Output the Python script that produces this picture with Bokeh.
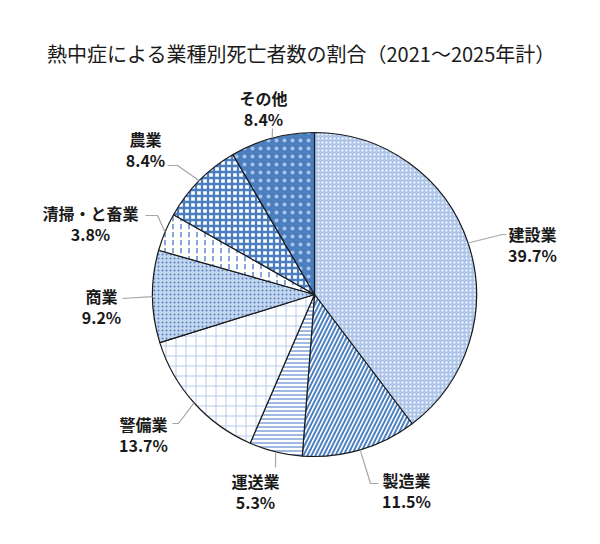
import math
from bokeh.plotting import figure
from bokeh.models import Range1d, ColumnDataSource
from bokeh.core.properties import value
from bokeh.embed import file_html
from bokeh.resources import INLINE

# ---- data ----
categories = ["建設業", "製造業", "運送業", "警備業", "商業", "清掃・と畜業", "農業", "その他"]
shares = [39.7, 11.5, 5.3, 13.7, 9.2, 3.8, 8.4, 8.4]
title_text = "熱中症による業種別死亡者数の割合（2021〜2025年計）"

# ---- styles ----
fills = ["#aec5e9", "#ffffff", "#ffffff", "#ffffff", "#c4d5ee", "#ffffff", "#ffffff", "#4a7ebf"]
hatch_patterns = ["dot", "right_diagonal_line", "horizontal_line", "cross", "dot",
                  "vertical_dash", "cross", "dot"]
hatch_colors = ["#ffffff", "#4f82c3", "#7ea3d8", "#b6caea", "#4f82c3", "#5b8bd0", "#4a7ec0", "#a9c2e8"]
hatch_scales = [4, 8, 4, 10, 4, 8, 6, 8]
hatch_weights = [1.2, 2.0, 1.5, 1.0, 2.0, 1.5, 2.3, 1.2]

# ---- layout (reference pixel coords: x right, y down) ----
CX, CY, R = 314, 294, 162
W, H = 584, 528
label_pos = [(532, 233), (406, 479), (255, 480), (143, 423), (101, 295), (90, 212), (145, 138), (263, 97)]
leader_elbow = [(502, 234), (370, 483), (275, 467), (178, 423), (122, 298), (157, 215), (177, 165), (272, 128)]
leader_end = [(506, 234), (378, 483), (275, 467), (172, 423), (122, 298), (145, 215), (167, 165), (272, 128)]


def fy(y):
    return 544 - y


p = figure(width=W, height=H, x_range=Range1d(0, W), y_range=Range1d(544 - H, 544),
           output_backend="svg", toolbar_location=None, min_border=0,
           x_axis_location=None, y_axis_location=None, outline_line_color=None)
p.grid.visible = False

total = sum(shares)
starts, ends, mids = [], [], []
c = 0.0
for s in shares:
    c0 = c / total
    c1 = (c + s) / total
    starts.append(math.pi / 2 - 2 * math.pi * c1)
    ends.append(math.pi / 2 - 2 * math.pi * c0)
    mids.append(math.pi / 2 - 2 * math.pi * (c0 + c1) / 2)
    c += s

src = ColumnDataSource(dict(start=starts, end=ends, fill=fills, hp=hatch_patterns,
                            hc=hatch_colors, hs=hatch_scales, hw=hatch_weights,
                            name=categories))
p.wedge(x=CX, y=fy(CY), radius=R, start_angle="start", end_angle="end", direction="anticlock",
        fill_color="fill", hatch_pattern="hp", hatch_color="hc", hatch_scale="hs",
        hatch_weight="hw", line_color="#1a1a1a", line_width=1.2, source=src)

# leader lines
xs, ys = [], []
for m, e, t in zip(mids, leader_elbow, leader_end):
    ex = CX + R * math.cos(m)
    ey = fy(CY) + R * math.sin(m)
    xs.append([ex, e[0], t[0]])
    ys.append([ey, fy(e[1]), fy(t[1])])
p.multi_line(xs=xs, ys=ys, line_color="#a6a6a6", line_width=1.2)

# labels
font = value("Noto Sans CJK JP")
p.text(x=[lp[0] for lp in label_pos], y=[fy(lp[1]) for lp in label_pos], text=categories,
       text_font=font, text_font_size="16px", text_font_style="bold", text_color="#1a1a1a",
       text_align="center", text_baseline="middle")
p.text(x=[lp[0] for lp in label_pos], y=[fy(lp[1] + 21) for lp in label_pos],
       text=[f"{s:.1f}%" for s in shares],
       text_font=font, text_font_size="16px", text_font_style="bold", text_color="#1a1a1a",
       text_align="center", text_baseline="middle")

# title
p.text(x=[301], y=[fy(53)], text=[title_text], text_font=font, text_font_size="20px",
       text_color="#1a1a1a", text_align="center", text_baseline="middle")

open("out.html", "w").write(file_html(p, INLINE))
